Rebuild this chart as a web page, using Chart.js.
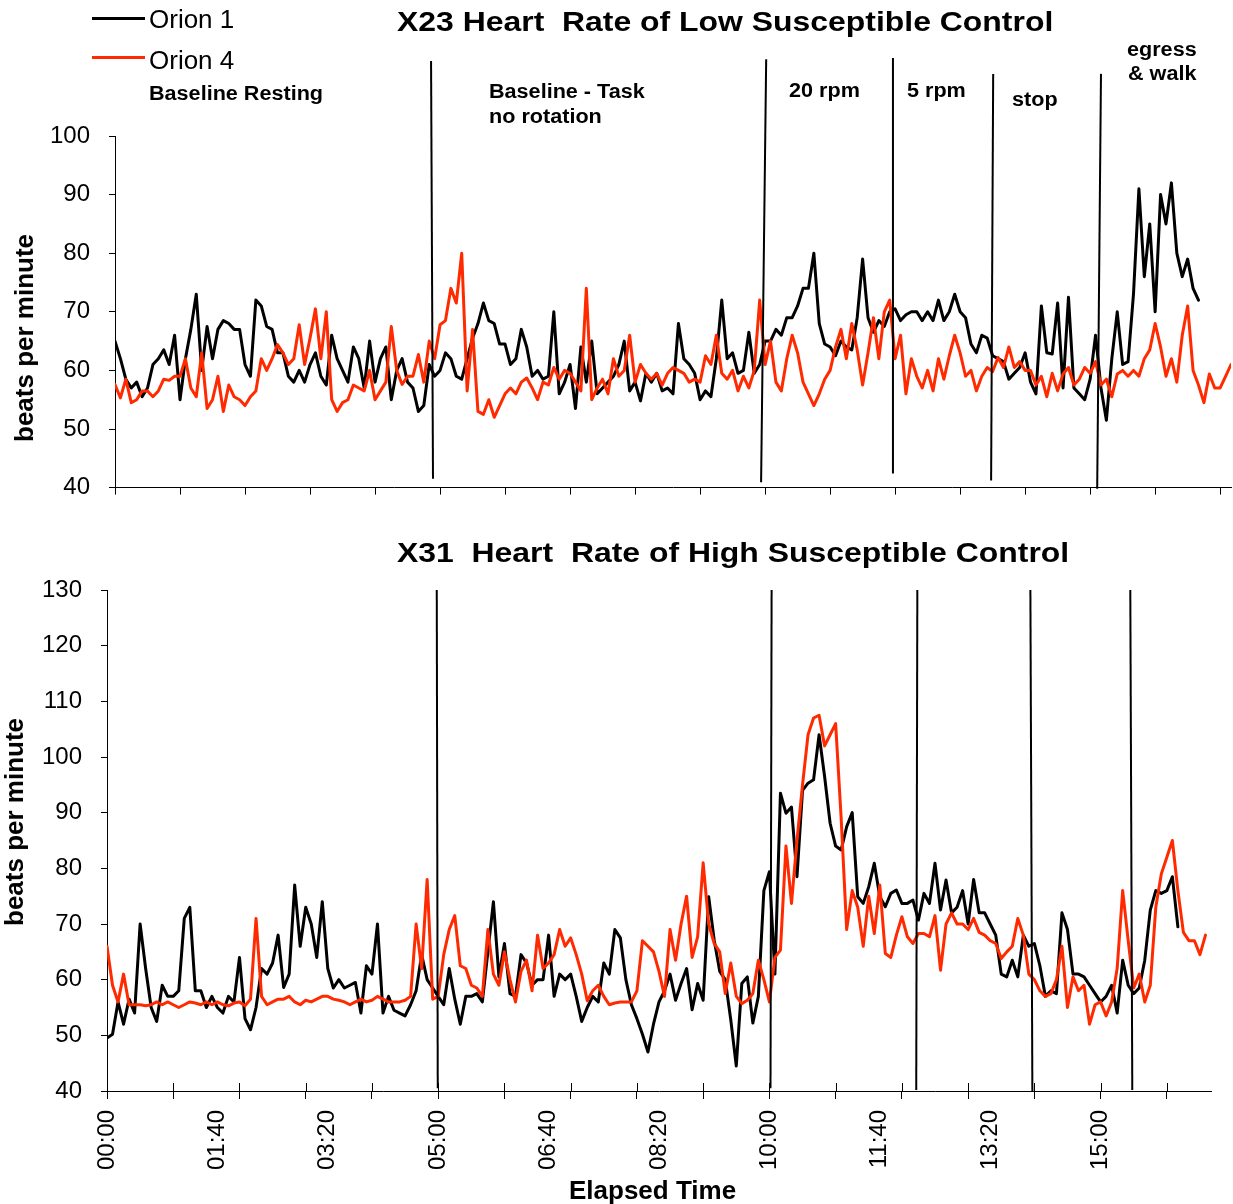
<!DOCTYPE html>
<html>
<head>
<meta charset="utf-8">
<title>Heart Rate of Low / High Susceptible Control</title>
<script src="https://cdn.jsdelivr.net/npm/chart.js@4.4.1/dist/chart.umd.min.js"></script>
<style>
  html, body { margin: 0; padding: 0; background: #fff; }
  body { position: relative; width: 1233px; height: 1204px; overflow: hidden; font-family: "Liberation Sans", Arial, sans-serif; color: #000; }
  canvas { position: absolute; left: 0; }
  #topChart { top: 0; }
  #bottomChart { top: 500px; }
  .txt { position: absolute; white-space: pre; line-height: 1; transform-origin: 0 0; }
  .title { font-size: 28px; font-weight: bold; transform: scaleX(1.14); }
  .phase { font-size: 20px; font-weight: bold; transform: scaleX(1.08); }
  .legend { font-size: 26px; }
  .swatch { position: absolute; left: 92px; width: 53px; height: 3px; }
  .ytitle { position: absolute; font-size: 26px; font-weight: bold; white-space: pre; line-height: 1; transform: translate(-50%, -50%) rotate(-90deg); }
</style>
</head>
<body>
<canvas id="topChart" width="1233" height="521"></canvas>
<canvas id="bottomChart" width="1233" height="704"></canvas>

<div class="txt title" style="left:397px; top:8px;">X23 Heart  Rate of Low Susceptible Control</div>
<div class="txt title" style="left:397px; top:539px;">X31  Heart  Rate of High Susceptible Control</div>

<div class="swatch" style="top:17px; background:#000;"></div>
<div class="txt legend" style="left:149px; top:6px;">Orion 1</div>
<div class="swatch" style="top:56px; background:#ff2a00;"></div>
<div class="txt legend" style="left:149px; top:47px;">Orion 4</div>

<div class="txt phase" style="left:149px; top:83px;">Baseline Resting</div>
<div class="txt phase" style="left:489px; top:81px;">Baseline - Task</div>
<div class="txt phase" style="left:489px; top:106px;">no rotation</div>
<div class="txt phase" style="left:789px; top:80px;">20 rpm</div>
<div class="txt phase" style="left:907px; top:80px;">5 rpm</div>
<div class="txt phase" style="left:1012px; top:89px;">stop</div>
<div class="txt phase" style="left:1127px; top:39px;">egress</div>
<div class="txt phase" style="left:1128px; top:63px;">&amp; walk</div>

<div class="ytitle" style="left:24px; top:338px;">beats per minute</div>
<div class="ytitle" style="left:14px; top:822px;">beats per minute</div>
<div class="txt" style="left:569px; top:1177px; font-size:26px; font-weight:bold;">Elapsed Time</div>

<script>
// one reading every 5 seconds
const sampleStep = 5;

// X23 - low susceptible control
const topOrion1 = [
  65, 62, 58.5, 57, 58, 55.5, 57, 61, 62, 63.5, 61, 66, 55, 62, 67, 73, 60, 67.5, 62, 67,
  68.5, 68, 67, 67, 61, 59, 72, 71, 67.5, 67, 63, 63, 59, 58, 60, 58, 61, 63, 59, 57.5,
  66, 62, 60, 58, 64, 62, 57, 65, 58, 62, 64, 55, 60,
  62, 58, 57, 53, 54, 61, 59, 60, 63, 62, 59, 58.5, 62, 65.5, 68, 71.5, 68.5, 68, 64.5, 64.5,
  61, 62, 67, 64, 59, 60, 58.5, 59, 70, 56, 58, 61, 53.5, 64, 58, 65, 56, 57, 58, 59,
  61, 65, 56.5, 58, 54.8, 59.5, 58, 59.5, 56.5, 57,
  56, 68, 62, 61, 59.5, 55, 56.5, 55.5, 62, 72, 62, 63, 59.5, 60, 66.5, 59.5, 61, 65, 65, 67,
  66, 69, 69, 71, 74, 74, 80, 68, 64.5, 64, 62.5, 65, 64, 63.5, 69, 79, 69, 66.5, 68.5, 67.5,
  70, 70.5, 68.5, 69.5, 70, 70, 68.5, 70, 68.5, 72, 68.5, 70, 73, 70,
  69, 64.5, 63, 66, 65.5, 62.5, 62, 61.5, 58.5, 59.5, 60.5, 63, 58, 56, 71, 63, 62.8, 71.5, 57, 72.5,
  57, 56, 55, 58.5, 66, 57, 51.5, 62, 70, 61, 61.5, 73, 91, 76, 85, 70, 90, 85, 92, 80,
  76, 79, 74, 72
];
const topOrion4 = [
  57.6, 55.3, 58.5, 54.5, 55, 56.5, 56.5, 55.5, 56.5, 58.5, 58.3, 59, 59, 62, 57, 55.5, 63, 53.5, 55, 59,
  53, 57.5, 55.5, 55, 54, 55.5, 56.5, 62, 60, 62, 64.4, 63, 61, 62, 67.8, 61, 65.5, 70.5, 62, 70,
  55, 53, 54.5, 55, 57.5, 57, 56.5, 60, 55, 56.5, 58, 67.5, 60,
  57.6, 59, 59, 62.7, 58, 65, 62, 67.8, 68.5, 74, 71.5, 80, 56.5, 67, 53, 52.5, 55, 52, 54, 56,
  57, 56, 58, 58.7, 57, 55, 58, 57.5, 60.5, 58.5, 60, 59.5, 58, 56.5, 74, 55, 57, 58.5, 56, 62,
  59, 60, 66, 58, 61, 59.5, 58.5, 59.5, 57.5, 59.5,
  60.5, 60, 59.5, 58, 58.5, 58, 62.5, 61, 66, 59.5, 58.5, 60, 56.5, 59, 57, 60, 72, 61, 65, 58,
  56.5, 62, 66, 63, 58, 56, 54, 56, 58.5, 60, 64, 67, 62, 68, 63.5, 57.5, 63, 69, 62, 70,
  72, 62, 66, 56, 62, 59, 57, 60, 56.5, 62, 58.5, 62.5, 66, 63,
  59, 60, 56.5, 59, 60.5, 59.8, 62.2, 60.5, 64, 60.5, 61.5, 60, 60, 57.5, 59, 55.5, 59.5, 56.5, 59.4, 60.5,
  57.5, 58.5, 60.5, 59.5, 61.5, 57.5, 58.5, 55.5, 59.4, 60, 59, 60, 59, 62, 63.5, 68, 64, 59, 62, 58,
  66, 71, 60, 57.5, 54.5, 59.4, 57, 57, 59, 61
];

// X31 - high susceptible control
const bottomOrion1 = [
  49.5, 50.2, 56, 52, 56.5, 54, 70, 62, 55, 52.5, 59, 57, 57, 58, 71, 73, 58, 58, 55, 57,
  55, 54, 57, 56, 64, 53, 51, 55, 62, 61, 63, 68, 58.6, 61, 77, 66, 73, 70, 64, 74,
  62, 58.5, 60, 58.5, 59, 59.5, 54, 62.5, 61, 70, 54, 57,
  54.5, 54, 53.5, 55.5, 58, 64.5, 60, 58.5, 57, 55.5, 62, 56.5, 52, 57, 57, 57.5, 56, 65, 74, 60.5,
  66.5, 57.5, 57, 64.5, 63, 59, 60, 60, 68, 57, 61, 60, 61, 57, 52.5, 55, 57, 56, 63, 61,
  69, 67.5, 60, 55.5, 53, 50.2, 47, 52, 56, 58,
  61, 56.3, 59.3, 62, 54.6, 59.3, 56.3, 74.9, 67.1, 61.5, 60, 52.8, 44.5, 59.3, 60.5, 52.2, 57, 76, 79.4, 61,
  93.5, 89.9, 91, 78.5, 94, 95.3, 95.9, 104, 96.5, 88.1, 84, 83.3, 87.5, 90, 74.9, 73.7, 76.7, 80.9, 74.9, 73.1,
  75.5, 76.1, 73.7, 73.7, 74.3, 70.7, 75.5, 73.7, 80.9, 72.5, 77.9,
  72, 73, 76, 70, 78, 72, 72, 70, 68, 61, 60.5, 63.5, 60.5, 68, 66, 66.5, 62.5, 57, 58, 57.5,
  72, 69, 61, 61, 60.5, 59, 57.5, 56, 57, 59, 54, 63.5, 59, 57.5, 58.5, 63.5, 72.5, 76, 75.5, 76,
  78.5, 69.5
];
const bottomOrion4 = [
  66, 59, 56, 61, 55.5, 55.5, 55.5, 55.3, 55.5, 56, 55.5, 56, 55.5, 55, 55.5, 56, 55.8, 55.5, 56, 55.5,
  56, 55.5, 55.3, 55.8, 56, 55.3, 56.5, 71, 57, 55.5, 56, 56.5, 56.5, 57, 56, 55.5, 56.3, 56, 56.5, 57,
  57, 56.5, 56.3, 56, 55.5, 56, 56.5, 56, 56.3, 57, 56.5, 56,
  56, 56, 56.3, 57, 70, 62, 78, 56.5, 57, 64.5, 69, 71.5, 62.5, 62, 59, 58.5, 57, 69, 61, 59,
  65, 60, 56, 61.5, 63.5, 58, 68, 62, 63, 64.5, 69, 66, 67.5, 64.5, 61, 56.2, 58, 59, 57, 55.5,
  55.8, 56, 56, 56, 58, 67, 66, 65, 61.5, 57,
  69, 63.5, 70, 75, 64, 67.7, 81, 70, 66.5, 65, 57.5, 63, 57, 55.7, 56.3, 57.5, 63.5, 60, 56, 64,
  65.3, 84, 73.7, 85, 95, 104, 107, 107.5, 102, 104, 106, 89, 69, 76, 73, 66, 75, 68.3, 77, 64.7,
  64, 68, 71.3, 67.7, 66.5, 68.3, 68.3, 67.7, 71.5, 61.7, 70,
  72, 70, 70, 69, 71, 68.5, 68, 67, 66.5, 63.8, 65, 66, 71, 68, 61, 60, 58, 57, 57.5, 60,
  66, 55, 60.5, 58, 59, 52, 55.5, 56, 53.5, 56, 62, 76, 67, 58.5, 61, 56, 59, 73, 79, 82,
  85, 76, 68.5, 67, 67, 64.5, 68
];

// axis ticks (seconds) and the labels Excel printed under the lower panel
const topTickSeconds = [0, 60, 120, 180, 240, 300, 360, 420, 480, 540, 600, 660, 720, 780, 840, 900, 960, 1020];
const bottomTickSeconds = [0, 60, 120, 180, 240, 300, 360, 420, 480, 540, 600, 660, 720, 780, 840, 900, 960];
const bottomLabelSeconds = [0, 100, 200, 300, 400, 500, 600, 700, 800, 900];
const bottomLabels = ['00:00', '01:40', '03:20', '05:00', '06:40', '08:20', '10:00', '11:40', '13:20', '15:00'];

// hand-drawn phase boundaries: start/end in seconds, top/bottom in bpm
const topPhaseX0 = [291.7, 601, 718, 810.5, 910];
const topPhaseX1 = [293.5, 596.3, 718, 808.6, 906.5];
const topPhaseY0 = [112.8, 113.1, 113.3, 110.6, 110.6];
const topPhaseY1 = [41.5, 40.9, 42.4, 41.2, 39.8];
const bottomPhaseX0 = [298.7, 602, 734, 836.4, 926.9];
const bottomPhaseX1 = [299.6, 601, 733, 838.2, 928.7];
const bottomPhaseY0 = [130, 130, 130, 130, 130];
const bottomPhaseY1 = [40.5, 40.5, 40.2, 39.8, 40.2];

const BLACK = '#000000';
const RED = '#ff2a00';
const FONT = '"Liberation Sans", Arial, sans-serif';

Chart.defaults.font.family = FONT;
Chart.defaults.color = '#000';

const toPoints = vals => vals.map((v, i) => ({ x: i * sampleStep, y: v }));

function seriesSet(values, color, order) {
  return {
    data: toPoints(values),
    borderColor: color,
    borderWidth: 3,
    pointRadius: 0,
    tension: 0,
    borderJoinStyle: 'round',
    borderCapStyle: 'round',
    order: order
  };
}

function phaseSets(x0, x1, y0, y1) {
  return x0.map((x, i) => ({
    data: [{ x: x, y: y0[i] }, { x: x1[i], y: y1[i] }],
    borderColor: '#000',
    borderWidth: 2,
    pointRadius: 0,
    clip: false,
    order: 0
  }));
}

// tick marks that also poke up into the plot (lower panel crosses the axis)
const innerTicks = {
  id: 'innerTicks',
  afterDraw(chart, args, opts) {
    if (!opts.values) return;
    const { ctx } = chart;
    const x = chart.scales.x;
    ctx.save();
    ctx.strokeStyle = '#000';
    ctx.lineWidth = 1;
    opts.values.forEach(v => {
      const px = Math.round(x.getPixelForValue(v)) + 0.5;
      ctx.beginPath();
      ctx.moveTo(px, x.top - opts.length);
      ctx.lineTo(px, x.top);
      ctx.stroke();
    });
    ctx.restore();
  }
};

new Chart(document.getElementById('topChart'), {
  type: 'line',
  data: {
    datasets: [
      seriesSet(topOrion4, RED, 1),
      seriesSet(topOrion1, BLACK, 2),
      ...phaseSets(topPhaseX0, topPhaseX1, topPhaseY0, topPhaseY1)
    ]
  },
  options: {
    responsive: false,
    animation: false,
    layout: { padding: { top: 136, right: 2, bottom: 0, left: 0 } },
    plugins: { legend: { display: false }, tooltip: { enabled: false }, innerTicks: {} },
    scales: {
      x: {
        type: 'linear',
        min: 0,
        max: 1030,
        afterBuildTicks: s => { s.ticks = topTickSeconds.map(v => ({ value: v })); },
        ticks: { display: false },
        grid: { drawOnChartArea: false, tickLength: 7, color: '#000' },
        border: { color: '#000', width: 1 },
        afterFit: s => { s.height = 23; }
      },
      y: {
        min: 40,
        max: 100,
        ticks: { stepSize: 10, padding: 19, font: { size: 24 }, color: '#000' },
        grid: { drawOnChartArea: false, tickLength: 6, color: '#000' },
        border: { color: '#000', width: 1 },
        afterFit: s => { s.width = 115; }
      }
    }
  },
  plugins: [innerTicks]
});

new Chart(document.getElementById('bottomChart'), {
  type: 'line',
  data: {
    datasets: [
      seriesSet(bottomOrion4, RED, 1),
      seriesSet(bottomOrion1, BLACK, 2),
      ...phaseSets(bottomPhaseX0, bottomPhaseX1, bottomPhaseY0, bottomPhaseY1)
    ]
  },
  options: {
    responsive: false,
    animation: false,
    layout: { padding: { top: 90, right: 22, bottom: 0, left: 0 } },
    plugins: {
      legend: { display: false },
      tooltip: { enabled: false },
      innerTicks: { values: bottomTickSeconds, length: 8 }
    },
    scales: {
      x: {
        type: 'linear',
        min: 0,
        max: 1000,
        afterBuildTicks: s => {
          const vals = [...new Set([...bottomTickSeconds, ...bottomLabelSeconds])].sort((a, b) => a - b);
          s.ticks = vals.map(v => ({ value: v }));
        },
        ticks: {
          autoSkip: false,
          minRotation: 90,
          maxRotation: 90,
          padding: 11,
          font: { size: 24 },
          color: '#000',
          callback: v => {
            const i = bottomLabelSeconds.indexOf(v);
            return i >= 0 ? bottomLabels[i] : '';
          }
        },
        grid: {
          drawOnChartArea: false,
          tickLength: 8,
          color: c => (c.tick && bottomTickSeconds.includes(c.tick.value)) ? '#000' : 'rgba(0,0,0,0)'
        },
        border: { color: '#000', width: 1 },
        afterFit: s => { s.height = 113; }
      },
      y: {
        min: 40,
        max: 130,
        ticks: { stepSize: 10, padding: 19, font: { size: 24 }, color: '#000' },
        grid: { drawOnChartArea: false, tickLength: 6, color: '#000' },
        border: { color: '#000', width: 1 },
        afterFit: s => { s.width = 107; }
      }
    }
  },
  plugins: [innerTicks]
});
</script>
</body>
</html>
